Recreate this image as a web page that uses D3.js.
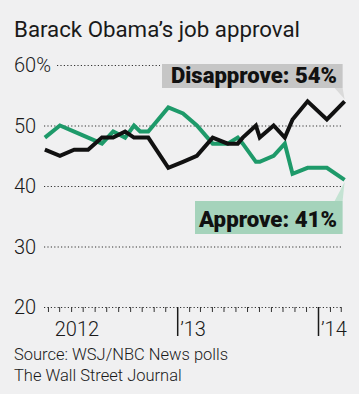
<!DOCTYPE html>
<html>
<head>
<meta charset="utf-8">
<script src="https://cdn.jsdelivr.net/npm/d3@7"></script>
<style>
  html, body { margin: 0; padding: 0; background: #f0f0f1; }
  svg { display: block; font-family: Roboto, "Noto Sans", sans-serif; }
</style>
</head>
<body>
<script>
// poll dates (WSJ/NBC) and values
const pollDates = ["2012-01-24", "2012-03-03", "2012-04-09", "2012-05-15", "2012-06-20",
  "2012-07-19", "2012-08-19", "2012-09-11", "2012-09-27", "2012-10-18", "2012-12-09",
  "2013-01-16", "2013-02-21", "2013-04-03", "2013-05-12", "2013-06-07", "2013-06-20",
  "2013-07-24", "2013-08-03", "2013-09-08", "2013-10-07", "2013-10-27", "2013-12-05",
  "2014-01-24", "2014-03-11"];
const approve = [48, 50, 49, 48, 47, 49, 48, 50, 49, 49, 53, 52, 50, 47, 47, 48, 47, 44, 44, 45, 47, 42, 43, 43, 41];
const disapprove = [46, 45, 46, 46, 48, 48, 49, 48, 48, 48, 43, 44, 45, 48, 47, 47, 48, 50, 48, 50, 48, 51, 54, 51, 54];
const yTicks = [60, 50, 40, 30, 20];
const yTickLabels = ["60%", "50", "40", "30", "20"];
const years = ["2012", "’13", "’14"];
const title = "Barack Obama’s job approval";
const sourceLines = ["Source: WSJ/NBC News polls", "The Wall Street Journal"];

const width = 359, height = 394;
const parse = d3.timeParse("%Y-%m-%d");
const dates = pollDates.map(parse);

let svg = d3.select("body").append("svg")
    .attr("width", width)
    .attr("height", height);

// one year is about 141px, Jan 1 2012 sits left of the visible axis
const base = d3.scaleTime()
    .domain([new Date(2012, 0, 1), new Date(2014, 0, 1)])
    .range([36, 318]);
const start = new Date(2012, 0, 21), end = new Date(2014, 2, 12);
const x = d3.scaleTime().domain([start, end]).range([base(start), base(end)]);

const y = d3.scaleLinear().domain([20, 60]).range([307, 65]);

const green = "#1e9a6a";

// title
svg.append("text")
    .attr("x", 14).attr("y", 37)
    .attr("font-size", 22)
    .attr("fill", "#1a1a1a")
    .attr("textLength", 286)
    .attr("lengthAdjust", "spacingAndGlyphs")
    .text(title);

// dotted grid + labels
yTicks.forEach((t, i) => {
    svg.append("text")
        .attr("x", 14).attr("y", y(t) + 7)
        .attr("font-size", 20)
        .attr("font-weight", 300)
        .attr("fill", "#1a1a1a")
        .text(yTickLabels[i]);
    svg.append("line")
        .attr("x1", t === 60 ? 57 : 44)
        .attr("x2", t === 60 ? 160 : 341)
        .attr("y1", y(t) + 0.5).attr("y2", y(t) + 0.5)
        .attr("stroke", "#333")
        .attr("stroke-width", 1.2)
        .attr("stroke-dasharray", "1.2,2.2");
});

// month ticks
const axisG = svg.append("g").attr("transform", `translate(0, ${y(20)})`);
axisG.call(d3.axisBottom(x)
        .tickValues(d3.timeMonth.range(start, end).filter(d => d.getMonth() !== 0))
        .tickSize(5)
        .tickFormat(""))
    .call(g => g.select(".domain").remove())
    .selectAll("line").attr("stroke", "#333");

// year ticks
axisG.append("g").call(d3.axisBottom(x)
        .tickValues(d3.timeYear.range(start, end))
        .tickSize(29)
        .tickFormat(""))
    .call(g => g.select(".domain").remove())
    .selectAll("line").attr("stroke", "#1a1a1a").attr("stroke-width", 1.5);

years.forEach((lab, i) => {
    const yr = new Date(2012 + i, 0, 1);
    svg.append("text")
        .attr("x", i === 0 ? x(start) + 11 : x(yr) + 3)
        .attr("y", 336)
        .attr("font-size", 20)
        .attr("font-weight", 300)
        .attr("fill", "#1a1a1a")
        .text(lab);
});

// lines
const line = d3.line()
    .x((d, i) => x(dates[i]))
    .y(d => y(d));

svg.append("path")
    .datum(approve)
    .attr("d", line)
    .attr("fill", "none")
    .attr("stroke", green)
    .attr("stroke-width", 4);

svg.append("path")
    .datum(disapprove)
    .attr("d", line)
    .attr("fill", "none")
    .attr("stroke", "#111")
    .attr("stroke-width", 4);

// callout labels
const last = dates.length - 1;
const ex = x(dates[last]);

svg.append("polygon")
    .attr("points", [[ex - 10, 88], [ex - 2, 88], [ex, y(disapprove[last]) - 2]].join(" "))
    .attr("fill", "#dadada");
svg.append("rect")
    .attr("x", 162).attr("y", 64)
    .attr("width", ex - 2 - 162).attr("height", 24)
    .attr("fill", "#c6c6c6");
svg.append("text")
    .attr("x", 337).attr("y", 83)
    .attr("text-anchor", "end")
    .attr("font-size", 22)
    .attr("font-weight", 900)
    .attr("fill", "#111")
    .attr("textLength", 166)
    .attr("lengthAdjust", "spacingAndGlyphs")
    .text(`Disapprove: ${disapprove[last]}%`);

svg.append("polygon")
    .attr("points", [[ex - 10, 201], [ex - 2, 201], [ex, y(approve[last]) + 2]].join(" "))
    .attr("fill", "#c4e3d3");
svg.append("rect")
    .attr("x", 195).attr("y", 201)
    .attr("width", ex - 2 - 195).attr("height", 33)
    .attr("fill", "#a5d3bb");
svg.append("text")
    .attr("x", 337).attr("y", 227)
    .attr("text-anchor", "end")
    .attr("font-size", 22)
    .attr("font-weight", 900)
    .attr("fill", "#111")
    .attr("textLength", 138)
    .attr("lengthAdjust", "spacingAndGlyphs")
    .text(`Approve: ${approve[last]}%`);

// source
sourceLines.forEach((s, i) => {
    svg.append("text")
        .attr("x", 14).attr("y", 360 + i * 21)
        .attr("font-size", 16.5)
        .attr("font-weight", 300)
        .attr("fill", "#1a1a1a")
        .text(s);
});
</script>
</body>
</html>
